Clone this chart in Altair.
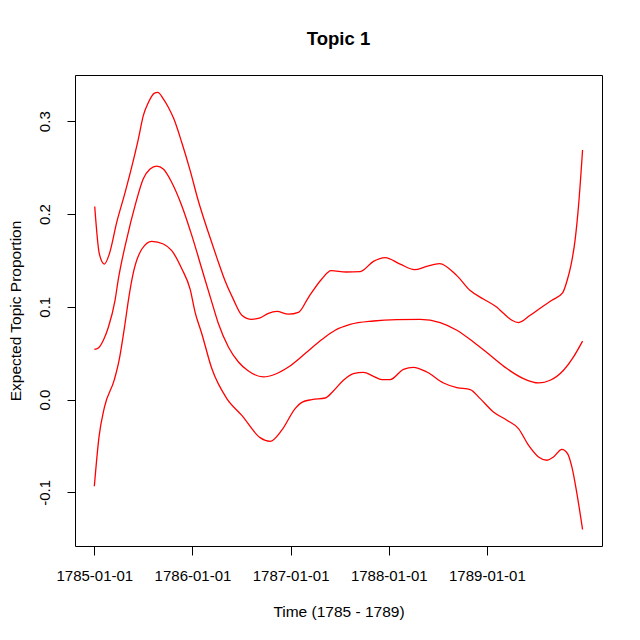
import altair as alt
import pandas as pd

# time in years after 1785-01-01
upper_t = [0.004, 0.051, 0.102, 0.153, 0.228, 0.313, 0.398, 0.449, 0.499, 0.550, 0.609, 0.646,
           0.703, 0.754, 0.812, 0.891, 0.976, 1.060, 1.162, 1.248, 1.332, 1.417, 1.503, 1.604,
           1.689, 1.774, 1.859, 1.978, 2.080, 2.181, 2.318, 2.413, 2.566, 2.709, 2.844, 2.963,
           3.116, 3.262, 3.388, 3.517, 3.694, 3.830, 3.965, 4.102, 4.169, 4.255, 4.322, 4.441,
           4.561, 4.663, 4.771, 4.822, 4.856, 4.900, 4.934, 4.975]
upper_v = [0.208, 0.157, 0.146, 0.157, 0.191, 0.223, 0.258, 0.281, 0.306, 0.320, 0.330, 0.331,
           0.324, 0.315, 0.302, 0.277, 0.247, 0.214, 0.180, 0.153, 0.128, 0.108, 0.091, 0.0865,
           0.088, 0.093, 0.095, 0.092, 0.094, 0.110, 0.130, 0.139, 0.1375, 0.138, 0.149, 0.153,
           0.146, 0.140, 0.1436, 0.1466, 0.1336, 0.1175, 0.1084, 0.0995, 0.093, 0.0855, 0.083, 0.0908,
           0.0998, 0.107, 0.115, 0.130, 0.1444, 0.173, 0.209, 0.269]

mean_t = [0.0, 0.041, 0.092, 0.143, 0.211, 0.245, 0.330, 0.415, 0.499, 0.568, 0.636, 0.703,
          0.789, 0.891, 0.993, 1.095, 1.197, 1.264, 1.366, 1.468, 1.570, 1.723, 1.842, 1.978,
          2.148, 2.318, 2.454, 2.607, 2.844, 3.083, 3.320, 3.524, 3.694, 3.863, 4.034, 4.204,
          4.373, 4.526, 4.645, 4.781, 4.883, 4.975]
mean_v = [0.054, 0.0556, 0.064, 0.078, 0.107, 0.130, 0.173, 0.209, 0.238, 0.2485, 0.2517, 0.2485,
          0.234, 0.209, 0.177, 0.141, 0.105, 0.082, 0.0567, 0.0405, 0.0308, 0.0244, 0.0273, 0.0351,
          0.0496, 0.0647, 0.0747, 0.081, 0.0847, 0.0862, 0.0865, 0.083, 0.0747, 0.062, 0.0477, 0.0334,
          0.0226, 0.0179, 0.0208, 0.0316, 0.046, 0.063]

lower_t = [0.0, 0.048, 0.102, 0.204, 0.252, 0.313, 0.347, 0.398, 0.483, 0.585, 0.703, 0.789,
           0.891, 0.976, 1.027, 1.095, 1.197, 1.350, 1.503, 1.689, 1.791, 1.910, 2.046, 2.114,
           2.216, 2.352, 2.433, 2.538, 2.640, 2.742, 2.844, 2.930, 3.014, 3.150, 3.252, 3.388,
           3.558, 3.694, 3.830, 3.932, 4.067, 4.204, 4.322, 4.424, 4.526, 4.612, 4.679, 4.764,
           4.822, 4.866, 4.917, 4.975]
lower_v = [-0.0934, -0.040, -0.0086, 0.0215, 0.0423, 0.082, 0.107, 0.137, 0.162, 0.1706, 0.1677, 0.1605,
           0.141, 0.119, 0.094, 0.071, 0.0334, 0.001, -0.017, -0.041, -0.045, -0.033, -0.0097, -0.003,
           0.000, 0.0017, 0.009, 0.0208, 0.028, 0.0294, 0.0251, 0.0215, 0.0215, 0.0326, 0.0348, 0.0297,
           0.0179, 0.0129, 0.0108, 0.001, -0.0134, -0.0223, -0.0313, -0.0492, -0.0619, -0.0654, -0.0619, -0.0536,
           -0.0582, -0.0726, -0.101, -0.140]

x_ticks = [0, 1, 2, 3, 4]
y_ticks = [-0.1, 0.0, 0.1, 0.2, 0.3]

rows = []
for name, ts, vs in [("upper", upper_t, upper_v), ("mean", mean_t, mean_v), ("lower", lower_t, lower_v)]:
    for i, (t, v) in enumerate(zip(ts, vs)):
        rows.append({"series": name, "idx": i, "t": t, "value": v})
df = pd.DataFrame(rows)

FONT = "Liberation Sans"

chart = alt.Chart(df).mark_line(color="#FF0000", strokeWidth=1.3, interpolate="monotone").encode(
    x=alt.X("t:Q",
            scale=alt.Scale(domain=[-0.197, 5.173], nice=False, zero=False),
            axis=alt.Axis(values=x_ticks, title="Time (1785 - 1789)", grid=False, domain=False,
                          tickColor="black", tickSize=9, tickWidth=1, labelPadding=13,
                          labelFontSize=15, labelColor="black", labelFont=FONT,
                          labelExpr="'' + (1785 + datum.value) + '-01-01'",
                          titleFontSize=15.5, titleFontWeight="normal", titleFont=FONT, titleColor="black",
                          titleX=263.5, titleY=70, titleBaseline="alphabetic", titleAnchor="middle")),
    y=alt.Y("value:Q",
            scale=alt.Scale(domain=[-0.1578, 0.3498], nice=False, zero=False),
            axis=alt.Axis(values=y_ticks, title="Expected Topic Proportion", grid=False, domain=False,
                          tickColor="black", tickSize=8, tickWidth=1, labelPadding=15,
                          labelAngle=-90, labelAlign="center", labelBaseline="bottom",
                          labelFontSize=15, labelColor="black", labelFont=FONT,
                          labelExpr="replace(format(datum.value, '.1f'), '\u2212', '-')",
                          titleFontSize=15.5, titleFontWeight="normal", titleFont=FONT, titleColor="black",
                          titleAngle=-90, titleX=-55, titleY=235.5, titleBaseline="alphabetic",
                          titleAlign="center")),
    detail="series:N",
    order="idx:Q",
).properties(
    width=527,
    height=471,
    autosize="none",
    padding={"left": 67, "top": 67, "right": 30, "bottom": 86},
    title=alt.TitleParams("Topic 1", fontSize=18.5, fontWeight="bold", font=FONT, color="black",
                          anchor="middle", frame="group", baseline="alphabetic", offset=12),
).configure(
    background="white",
    view=alt.ViewConfig(stroke="black", strokeWidth=1),
)

chart.save("out.html", embed_options={"renderer": "svg", "actions": False})
